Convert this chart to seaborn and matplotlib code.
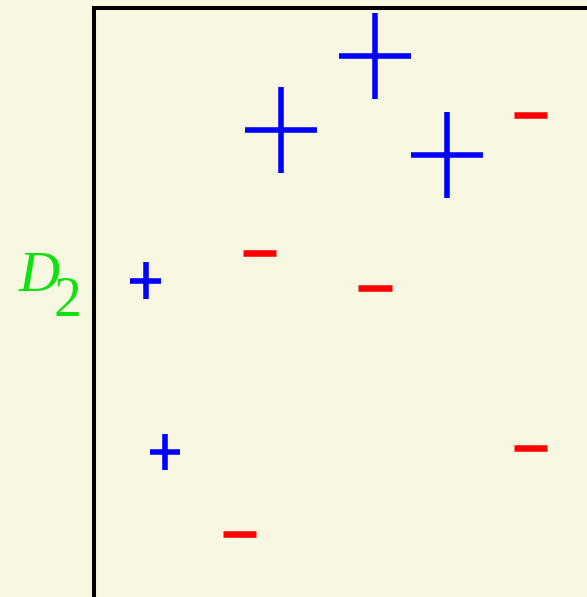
import matplotlib
matplotlib.use("Agg")
import matplotlib.pyplot as plt
from matplotlib.path import Path
import pandas as pd
import seaborn as sns

# AdaBoost toy example, round 2 weights (D_2)
plus_x = [5.70, 3.79, 7.16, 1.05, 1.44]
plus_y = [9.19, 7.93, 7.50, 5.37, 2.46]
plus_w = [1/6, 1/6, 1/6, 1/14, 1/14]

minus_x = [8.86, 3.35, 5.70, 8.86, 2.96]
minus_y = [8.18, 5.84, 5.25, 2.53, 1.07]
minus_w = [1/14, 1/14, 1/14, 1/14, 1/14]

label_main = "D"
label_sub = "2"

bg = "#f8f8e2"
sns.set_style("white")

plus_df = pd.DataFrame({"x": plus_x, "y": plus_y, "w": plus_w})
minus_df = pd.DataFrame({"x": minus_x, "y": minus_y, "w": minus_w})

fig = plt.figure(figsize=(5.87, 5.97), dpi=100, facecolor=bg)
ax = fig.add_axes([94/587, 0, 1 - 94/587, 1 - 8/597])
ax.set_facecolor(bg)

# plus sign with slightly longer vertical arm
plus_marker = Path([(-0.84, 0), (0.84, 0), (0, -1), (0, 1)],
                   [Path.MOVETO, Path.LINETO, Path.MOVETO, Path.LINETO])

sns.scatterplot(data=plus_df, x="x", y="y", size="w",
                sizes={w: (370*w)**2 for w in set(plus_w)},
                marker=plus_marker, color="#0000ff", edgecolor="#0000ff",
                linewidth=4.0, legend=False, ax=ax)
sns.scatterplot(data=minus_df, x="x", y="y", size="w",
                sizes={w: (333*w)**2 for w in set(minus_w)},
                marker="_", color="#ff0000", edgecolor="#ff0000",
                linewidth=4.7, legend=False, ax=ax)

ax.set_xlim(0, 10)
ax.set_ylim(0, 10)
ax.set_xticks([])
ax.set_yticks([])
ax.set_xlabel("")
ax.set_ylabel("")
for side in ["right", "bottom"]:
    ax.spines[side].set_visible(False)
for side in ["left", "top"]:
    ax.spines[side].set_color("black")
    ax.spines[side].set_linewidth(2.9)

green = "#11e011"
fig.text(19/587, 1 - 291/597, label_main, color=green, fontsize=41,
         family="Liberation Serif", style="italic", ha="left", va="baseline")
fig.text(54/587, 1 - 316/597, label_sub, color=green, fontsize=40,
         family="Liberation Serif", ha="left", va="baseline")

fig.savefig("out.png", dpi=100, facecolor=bg)
